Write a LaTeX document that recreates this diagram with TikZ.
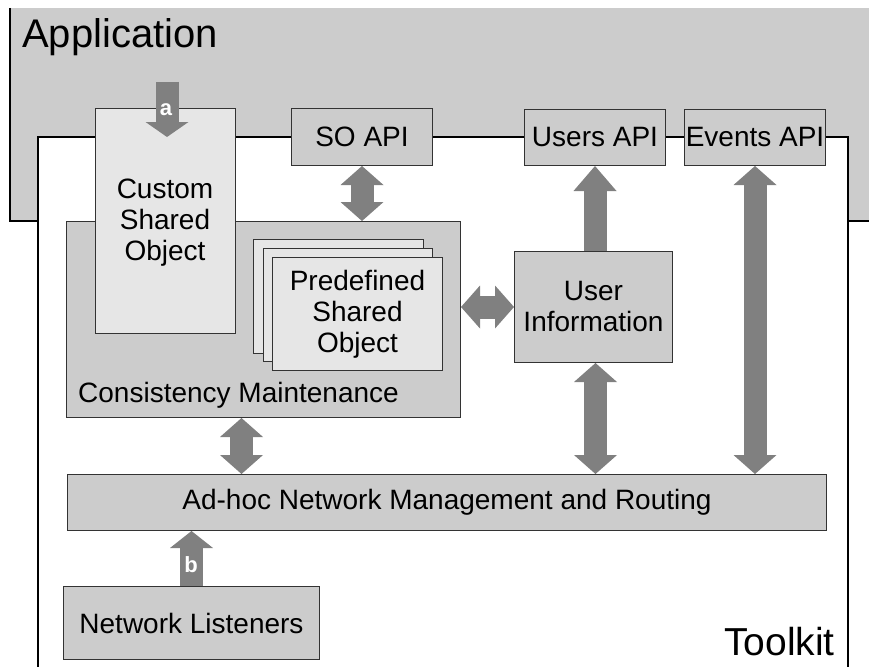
\documentclass[tikz,border=0pt]{standalone}
\usepackage{fontspec}
\setmainfont{Liberation Sans}
\usetikzlibrary{arrows.meta,calc}
\definecolor{appgray}{HTML}{CCCCCC}
\definecolor{lightbox}{HTML}{E6E6E6}
\definecolor{arrowgray}{HTML}{808080}
\definecolor{edgegray}{HTML}{333333}
\begin{document}
\begin{tikzpicture}[x=1pt,y=-1pt,
  box/.style={draw=edgegray, line width=1pt, fill=appgray, inner sep=0pt, anchor=north west,
    font=\fontsize{28}{31}\selectfont, align=center},
  lightbox/.style={box, fill=lightbox},
  txt/.style={font=\fontsize{28}{31}\selectfont, align=center, inner sep=0pt},
  dblarrow/.style={draw=arrowgray, line width=23pt, {Triangle[length=19pt,width=43pt,line width=0pt]}-{Triangle[length=19pt,width=43pt,line width=0pt]}},
  onearrow/.style={draw=arrowgray, line width=23pt, -{Triangle[length=#1,width=43pt,line width=0pt]}},
  letter/.style={text=white, font=\fontsize{22}{22}\selectfont\bfseries, inner sep=0pt}
]
\useasboundingbox (0,0) rectangle (869,666);

% Application layer
\fill[appgray] (10,8) rectangle (870,221);
\draw[black, line width=2pt] (10,8) -- (10,221) -- (870,221);
\node[anchor=base west, inner sep=0pt, font=\fontsize{40}{40}\selectfont] (applabel) at (22,48) {Application};

% Toolkit layer
\coordinate (tkNW) at (38,137);
\coordinate (tkSE) at (848,672);
\draw[black, line width=2pt, fill=white] (tkNW) rectangle (tkSE);
\node[anchor=base east, inner sep=0pt, font=\fontsize{39}{39}\selectfont] (tklabel) at (835,655) {Toolkit};

% Boxes
\node[box, minimum width=394pt, minimum height=196pt] (cons) at (66,221) {};
\node[anchor=west, txt] (conslabel) at (78,395) {Consistency Maintenance};

\node[lightbox, minimum width=140pt, minimum height=225pt] (custom) at (95,108) {};
\node[txt] (customlabel) at (165,223) {Custom\\Shared\\Object};

\node[box, minimum width=141pt, minimum height=57pt] (so) at (291,108) {SO API};
\node[box, minimum width=141pt, minimum height=56pt] (users) at (524,109) {Users API};
\node[box, minimum width=141pt, minimum height=56pt] (events) at (684,109) {Events API};

\node[lightbox, minimum width=170pt, minimum height=114pt] (pd3) at (253,239) {};
\node[lightbox, minimum width=169pt, minimum height=113pt] (pd2) at (263,248) {};
\node[lightbox, minimum width=170pt, minimum height=113pt] (pd1) at (272,257) {Predefined\\Shared\\Object};

\node[box, minimum width=158pt, minimum height=111pt] (userinfo) at (514,251) {User\\Information};
\node[box, minimum width=759pt, minimum height=56pt] (adhoc) at (67,474) {Ad-hoc Network Management and Routing};
\node[box, minimum width=256pt, minimum height=73pt] (netl) at (63,586) {Network Listeners};

% Arrows
\coordinate (astart) at (167,82);
\draw[onearrow=15pt] (astart) -- (astart |- tkNW);
\node[letter] (alabel) at (166,110) {a};

\draw[dblarrow] (so.south) -- (so.south |- cons.north);
\draw[onearrow=25pt] (users.south |- userinfo.north) -- (users.south);
\draw[dblarrow] (events.south) -- (events.south |- adhoc.north);
\draw[dblarrow] (cons.east |- userinfo.west) -- (userinfo.west);
\draw[dblarrow] ([xshift=2pt]userinfo.south) -- ([xshift=2pt]userinfo.south |- adhoc.north);
\draw[dblarrow] ([xshift=-22pt]cons.south) -- ([xshift=-22pt]cons.south |- adhoc.north);

\draw[onearrow=17pt] (netl.north) -- (netl.north |- adhoc.south);
\node[letter] (blabel) at (191,565) {b};
\end{tikzpicture}
\end{document}
